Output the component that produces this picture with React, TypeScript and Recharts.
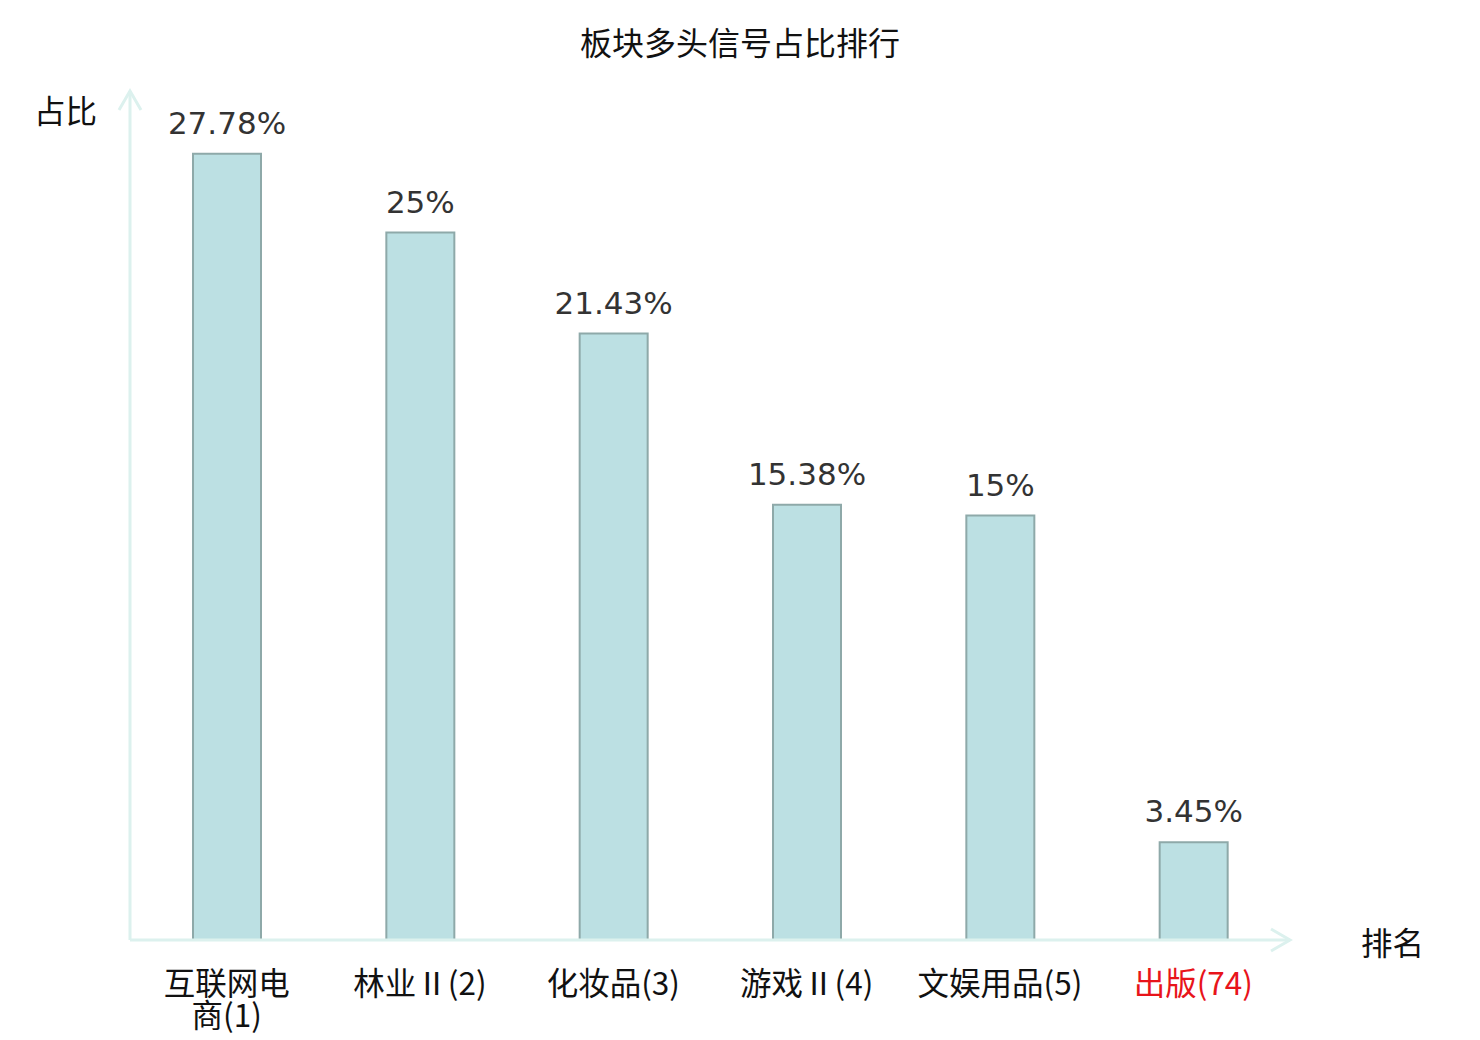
import React from 'react';
import { BarChart, Bar, XAxis, YAxis, LabelList } from 'recharts';

const categories = ['互联网电商(1)', '林业Ⅱ(2)', '化妆品(3)', '游戏Ⅱ(4)', '文娱用品(5)', '出版(74)'];
const shares = [27.78, 25, 21.43, 15.38, 15, 3.45];
const highlighted = ['出版(74)'];

const chartData = categories.map((name, i) => ({ name, share: shares[i] }));

const CJK = '"Noto Sans CJK SC", "DejaVu Sans", sans-serif';
const axisColor = '#dcf1ee';

const CategoryTick = (props: any) => {
  const { x, y, payload } = props;
  const label: string = payload.value;
  const lines = label.length > 7 ? [label.slice(0, 4), label.slice(4)] : [label];
  const color = highlighted.includes(label) ? '#e8141a' : '#111';
  return (
    <text x={x} y={y} textAnchor="middle" fill={color} fontSize={31.5} fontFamily={CJK}>
      {lines.map((line, i) => (
        <tspan key={i} x={x} dy={i === 0 ? 55 : 32}>{line}</tspan>
      ))}
    </text>
  );
};

export default function App() {
  return (
    <div style={{ position: 'absolute', left: 0, top: 0, width: 1480, height: 1040, background: '#fff' }}>
      <svg width={0} height={0} style={{ position: 'absolute' }}>
        <defs>
          <marker id="axisArrow" viewBox="0 0 22 24" refX={20} refY={12} markerWidth={22} markerHeight={24}
            markerUnits="userSpaceOnUse" orient="auto-start-reverse" overflow="visible">
            <path d="M1,1 L20,12 L1,23" fill="none" stroke={axisColor} strokeWidth={3} />
          </marker>
        </defs>
      </svg>

      <div style={{ position: 'absolute', left: 0, width: 1480, top: 21, textAlign: 'center', fontFamily: CJK, fontSize: 32, color: '#111', lineHeight: '40px' }}>
        板块多头信号占比排行
      </div>
      <div style={{ position: 'absolute', left: 34, top: 89, fontFamily: CJK, fontSize: 31.5, color: '#111', lineHeight: '40px' }}>
        占比
      </div>
      <div style={{ position: 'absolute', left: 1361, top: 921, fontFamily: CJK, fontSize: 31.5, color: '#111', lineHeight: '40px' }}>
        排名
      </div>

      <BarChart width={1480} height={1040} data={chartData} margin={{ top: 91, right: 190, bottom: 0, left: 70 }}>
        <XAxis
          dataKey="name"
          height={100}
          interval={0}
          tickLine={false}
          tickSize={0}
          tickMargin={0}
          tick={<CategoryTick />}
          axisLine={{ stroke: axisColor, strokeWidth: 3, markerEnd: 'url(#axisArrow)' } as any}
        />
        <YAxis
          width={60}
          domain={[0, 30]}
          tick={false}
          tickLine={false}
          axisLine={{ stroke: axisColor, strokeWidth: 3, markerStart: 'url(#axisArrow)' } as any}
        />
        <Bar dataKey="share" barSize={68} fill="#bce0e3" stroke="#8ea9a9" strokeWidth={2} isAnimationActive={false}>
          <LabelList
            dataKey="share"
            position="top"
            offset={20}
            formatter={(v: any) => `${v}%`}
            fill="#333"
            fontSize={31}
            fontFamily='"DejaVu Sans", sans-serif'
          />
        </Bar>
      </BarChart>
    </div>
  );
}
